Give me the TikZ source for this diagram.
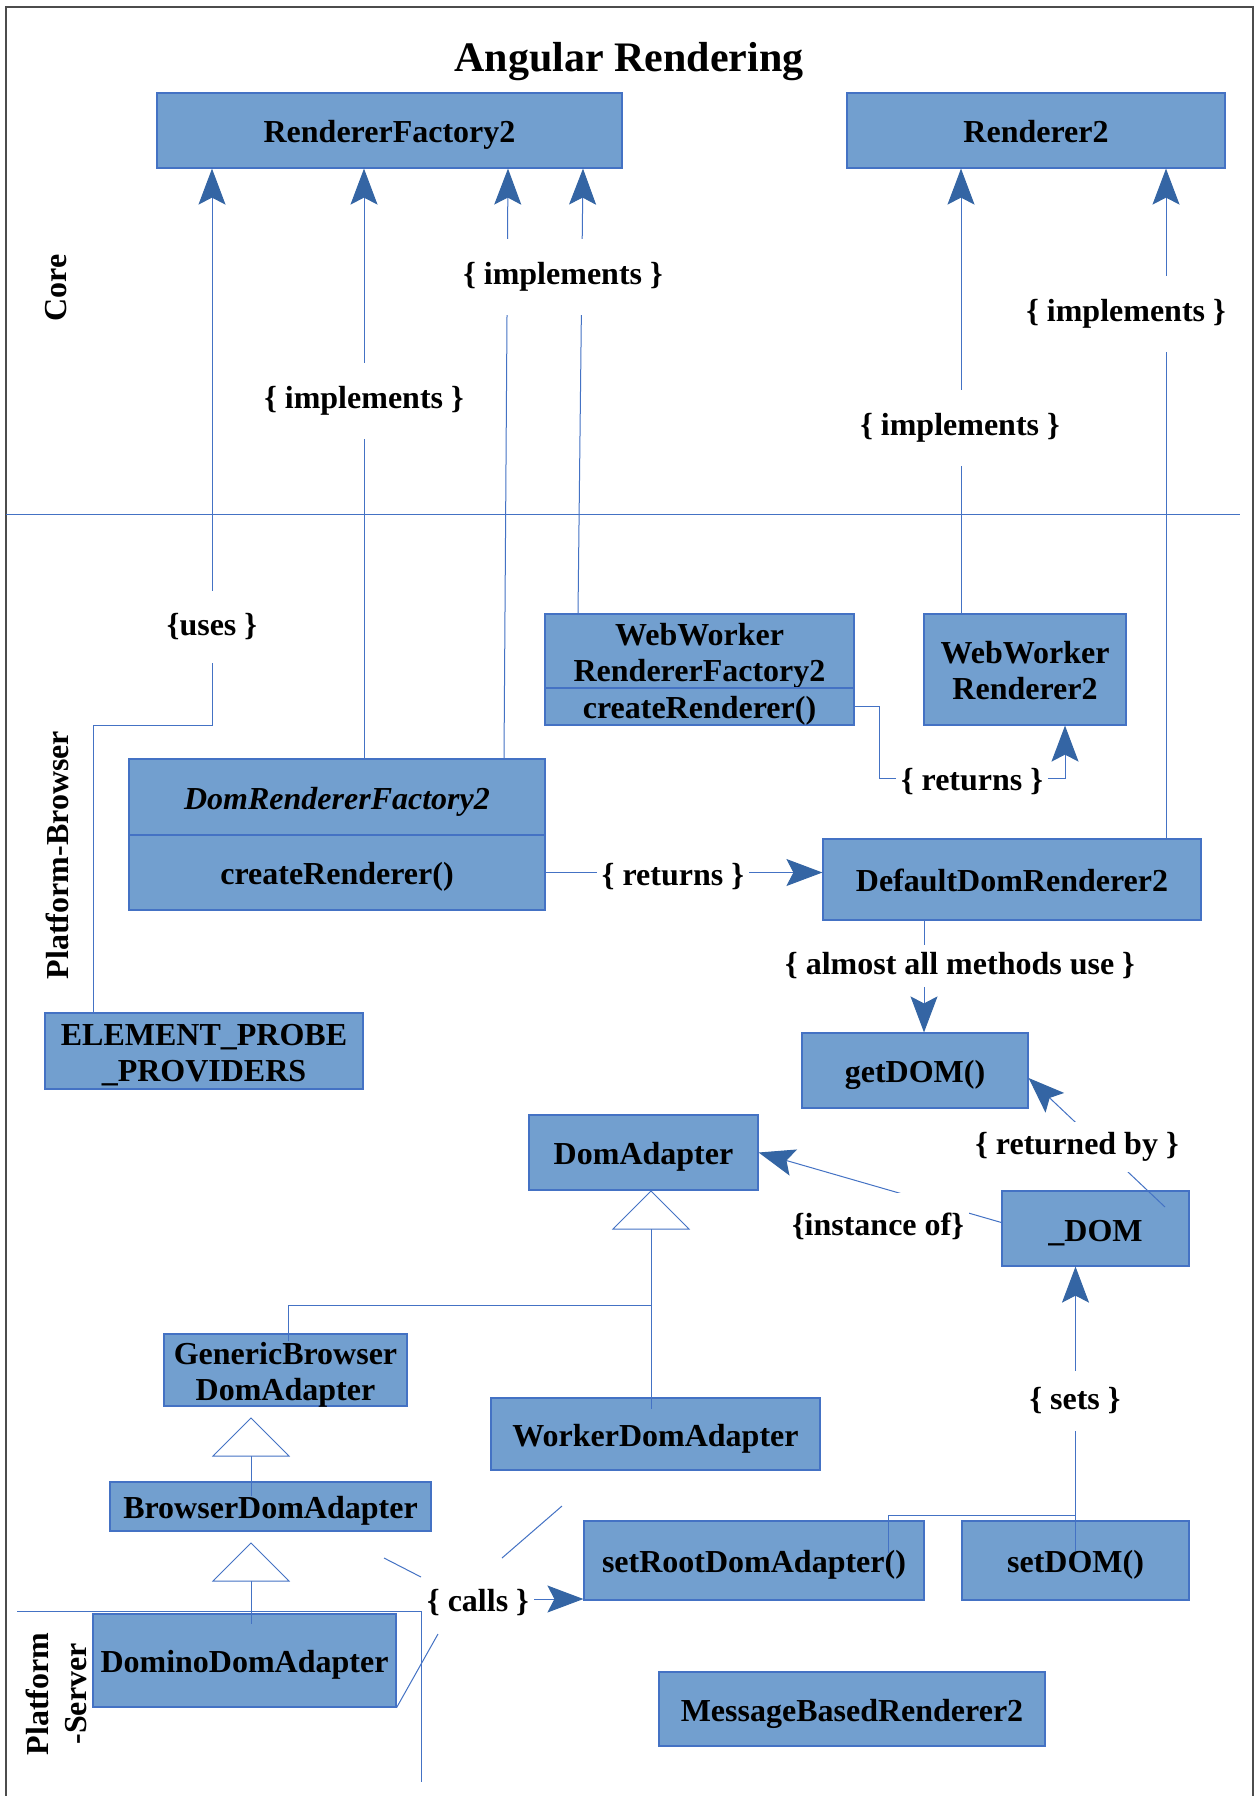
\documentclass[tikz,border=0pt]{standalone}
\usepackage{fontspec}
\setmainfont{Liberation Serif}
\usetikzlibrary{arrows.meta,calc}
\definecolor{boxfill}{HTML}{729FCF}
\definecolor{boxline}{HTML}{4472C4}
\definecolor{connc}{HTML}{4472C4}
\definecolor{tipcol}{HTML}{3465A4}
\begin{document}
\begin{tikzpicture}[x=1pt,y=-1pt,
  box/.style={draw=boxline, fill=boxfill, line width=1.2pt, inner sep=0pt},
  boxtext/.style={font=\fontsize{32}{36}\selectfont\bfseries, text=black, align=center, inner sep=0pt, yshift=-4.5pt},
  lbl/.style={fill=white, inner xsep=5pt, inner ysep=23pt, font=\fontsize{32}{36}\selectfont\bfseries, yshift=-4pt},
  side/.style={font=\fontsize{32}{38}\selectfont\bfseries, align=center},
  conn/.style={draw=connc, line width=1pt},
  arr/.style={conn, -{Stealth[length=36pt,width=27pt,inset=7pt,color=tipcol]}},
  tri/.style={draw=connc, line width=1pt, fill=white}]
\fill[white] (0,0) rectangle (1255,1796);
\useasboundingbox (0,0) rectangle (1255,1796);

% frame and separators
\draw[black!70, line width=1.5pt] (6,1796) -- (6,7) -- (1253,7) -- (1253,1796);
\coordinate (sepL) at (6,514);
\coordinate (sepR) at (1240,514);
\draw[conn] (sepL) -- (sepR);

% title and side labels
\node[font=\fontsize{42}{48}\selectfont\bfseries, anchor=base] (title) at (629,71) {Angular Rendering};
\node[side, rotate=90] (core) at (56,288) {Core};
\node[side, rotate=90] (pbrowser) at (57,855) {Platform-Browser};
\node[side, rotate=90] (pserver) at (56,1694) {Platform\\-Server};

% boxes
\node[box, minimum width=465pt, minimum height=75pt, label={[boxtext]center:RendererFactory2}] (rf2) at (389.5,130.5) {};
\node[box, minimum width=378pt, minimum height=75pt, label={[boxtext]center:{Renderer2\vphantom{y}}}] (r2) at (1036,130.5) {};
\node[box, minimum width=309pt, minimum height=74pt, label={[boxtext]center:{WebWorker\\RendererFactory2}}] (wwrf2top) at (699.5,651) {};
\node[box, minimum width=309pt, minimum height=37pt, label={[boxtext]center:createRenderer()}] (wwrf2bot) at (699.5,706.5) {};
\node[box, minimum width=202pt, minimum height=111pt, label={[boxtext]center:{WebWorker\\Renderer2\vphantom{y}}}] (wwr2) at (1025,669.5) {};
\node[box, minimum width=416pt, minimum height=76pt, label={[boxtext]center:{\itshape DomRendererFactory2}}] (drf2top) at (337,797) {};
\node[box, minimum width=416pt, minimum height=75pt, label={[boxtext]center:createRenderer()}] (drf2bot) at (337,872.5) {};
\node[box, minimum width=378pt, minimum height=81pt, label={[boxtext]center:{DefaultDomRenderer2\vphantom{y}}}] (ddr2) at (1012,879.5) {};
\node[box, minimum width=318pt, minimum height=76pt, label={[boxtext]center:{ELEMENT\_PROBE\\\_PROVIDERS}}] (epp) at (204,1051) {};
\node[box, minimum width=226pt, minimum height=75pt, label={[boxtext]center:getDOM()}] (getdom) at (915,1070.5) {};
\node[box, minimum width=229pt, minimum height=75pt, label={[boxtext]center:DomAdapter}] (da) at (643.5,1152.5) {};
\node[box, minimum width=187pt, minimum height=75pt, label={[boxtext]center:\_DOM}] (dom) at (1095.5,1228.5) {};
\node[box, minimum width=243pt, minimum height=72pt, label={[boxtext]center:{GenericBrowser\\DomAdapter}}] (gbda) at (285.5,1370) {};
\node[box, minimum width=329pt, minimum height=72pt, label={[boxtext]center:WorkerDomAdapter}] (wda) at (655.5,1434) {};
\node[box, minimum width=321pt, minimum height=49pt, label={[boxtext]center:BrowserDomAdapter}] (bda) at (270.5,1506.5) {};
\node[box, minimum width=340pt, minimum height=79pt, label={[boxtext]center:setRootDomAdapter()}] (srda) at (754,1560.5) {};
\node[box, minimum width=227pt, minimum height=79pt, label={[boxtext]center:setDOM()}] (setdom) at (1075.5,1560.5) {};
\node[box, minimum width=303pt, minimum height=93pt, label={[boxtext]center:DominoDomAdapter}] (dda) at (244.5,1660.5) {};
\node[box, minimum width=386pt, minimum height=74pt, label={[boxtext]center:MessageBasedRenderer2}] (mbr2) at (852,1709) {};

% helper x positions
\coordinate (x364) at (364,0);
\coordinate (x504) at (504,0);
\coordinate (x508) at (508,0);
\coordinate (x578) at (578,0);
\coordinate (x583) at (583,0);
\coordinate (x961) at (961,0);
\coordinate (x1166) at (1166,0);
\coordinate (x924) at (924,0);

% uses
\coordinate (u1) at (212,725);
\coordinate (u2) at (93,725);
\draw[arr] (epp.north -| u2) -- (u2) -- (u1) -- (u1 |- rf2.south);

% implements
\draw[arr] (drf2top.north -| x364) -- (rf2.south -| x364);
\draw[arr] (drf2top.north -| x504) -- (rf2.south -| x508);
\draw[arr] (wwrf2top.north -| x578) -- (rf2.south -| x583);
\draw[arr] (wwr2.north -| x961) -- (r2.south -| x961);
\draw[arr] (ddr2.north -| x1166) -- (r2.south -| x1166);

% returns (web worker)
\coordinate (rA) at (879,778);
\coordinate (rB) at (1065,778);
\draw[arr] (wwrf2bot.east) -| (rA) -- node[lbl, inner ysep=10pt] (ret1) {\{ returns \}} (rB) -- (rB |- wwr2.south);

% returns (dom renderer factory)
\draw[arr] (drf2bot.east) -- node[lbl, pos=0.46, inner ysep=10pt] (ret2) {\{ returns \}} (drf2bot.east -| ddr2.west);

% almost all methods use
\draw[arr] (ddr2.south -| x924) -- (getdom.north -| x924);

% returned by
\coordinate (rb0) at (1165,1207);
\draw[arr] (rb0) -- ($(getdom.east)+(0,7.5)$);

% instance of
\draw[arr] ($(dom.west)+(0,-6)$) -- (da.east);

% inheritance
\coordinate (t1) at (651,1191);
\coordinate (t1b) at (651,1229);
\coordinate (j1) at (288,1305);
\draw[conn, shorten >=-12pt] (t1b) -- (wda.north -| t1b);
\draw[conn, shorten <=-8pt] (gbda.north -| j1) -- (j1) -- (j1 -| t1b);
\draw[tri] (t1) -- ++(-38,38) -- ++(76,0) -- cycle;

\coordinate (t2) at (251,1418);
\coordinate (t2b) at (251,1456);
\draw[conn, shorten >=-15pt] (t2b) -- (bda.north -| t2b);
\draw[tri] (t2) -- ++(-38,38) -- ++(76,0) -- cycle;

\coordinate (t3) at (251,1543);
\coordinate (t3b) at (251,1581);
\draw[conn, shorten >=-11pt] (t3b) -- (dda.north -| t3b);
\draw[tri] (t3) -- ++(-38,38) -- ++(76,0) -- cycle;

% sets
\draw[arr] ($(setdom.center)+(0,-10)$) -- (setdom.center |- dom.south);
\coordinate (s1) at (888,1553);
\coordinate (s2) at (888,1515);
\draw[conn] (s1) -- (s2) -- (s2 -| setdom.center);

% calls
\node[lbl, inner ysep=4pt] (calls) at (478,1599) {\{ calls \}};
\draw[arr] ([yshift=4pt]calls.east) -- ([yshift=4pt]calls.east -| srda.west);
\coordinate (c1a) at (384,1558);
\coordinate (c1b) at (421,1577);
\coordinate (c2a) at (562,1506);
\coordinate (c2b) at (502,1558);
\coordinate (c3b) at (438,1634);
\draw[conn] (c1a) -- (c1b);
\draw[conn] (c2a) -- (c2b);
\draw[conn] (dda.south east) -- (c3b);

% platform-server separator
\coordinate (ps1) at (17,1611);
\coordinate (ps2) at (421,1611);
\coordinate (ps3) at (421,1782);
\draw[conn] (ps1) -- (ps2) -- (ps3);

% labels
\node[lbl] (uses) at (212,623) {\{uses \}};
\node[lbl] (imp1) at (563,273) {\{ implements \}};
\node[lbl] (imp2) at (364,397) {\{ implements \}};
\node[lbl] (imp3) at (960,424) {\{ implements \}};
\node[lbl] (imp4) at (1126,310) {\{ implements \}};
\node[lbl, inner ysep=8pt] (almost) at (960,962) {\{ almost all methods use \}};
\node[lbl, inner ysep=10pt] (retby) at (1077,1143) {\{ returned by \}};
\node[lbl, inner ysep=20pt] (inst) at (878,1222) {\{instance of\}};
\node[lbl, inner ysep=17pt] (sets) at (1075,1397) {\{ sets \}};
\end{tikzpicture}
\end{document}
